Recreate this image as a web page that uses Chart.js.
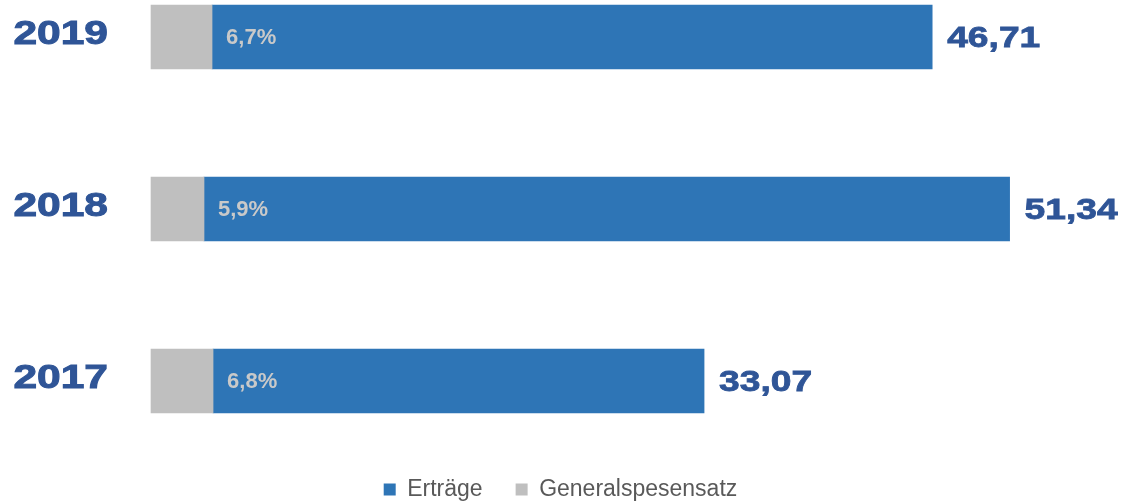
<!DOCTYPE html>
<html>
<head>
<meta charset="utf-8">
<script src="https://cdn.jsdelivr.net/npm/chart.js@4"></script>
<style>
  html, body { margin: 0; background: #fff; }
  #wrap { width: 1127px; height: 504px; }
</style>
</head>
<body>
<div id="wrap"><canvas id="chart"></canvas></div>
<script>
const years = ["2019", "2018", "2017"];
// total length of each bar (the big number to the right)
const ertraege = [46.71, 51.34, 33.07];
// length of the grey part in axis units
const generalspesen = [3.65, 3.17, 3.71];
const generalspesenLabels = ["6,7%", "5,9%", "6,8%"];
const xMax = 58;

const BLUE = "#2E75B6";
const GREY = "#BFBFBF";
const DARKBLUE = "#2F5597";

// draws text stretched sideways like in the original picture
function stretchedText(ctx, text, x, y, font, scaleX, align, color, heavy) {
  ctx.save();
  ctx.translate(x, y);
  ctx.scale(scaleX, 1);
  ctx.font = font;
  ctx.fillStyle = color;
  ctx.textAlign = align;
  ctx.textBaseline = "middle";
  ctx.fillText(text, 0, 0);
  if (heavy) {
    ctx.strokeStyle = color;
    ctx.lineWidth = heavy;
    ctx.strokeText(text, 0, 0);
  }
  ctx.restore();
}

const barLabels = {
  id: "barLabels",
  afterDatasetsDraw(chart) {
    const ctx = chart.ctx;
    const yScale = chart.scales.y;
    const greyMeta = chart.getDatasetMeta(0);
    const blueMeta = chart.getDatasetMeta(1);
    years.forEach((year, i) => {
      const y = yScale.getPixelForValue(i);
      stretchedText(ctx, year, 108, y - 2, 'bold 34px "Liberation Sans"', 1.25, "right", DARKBLUE, 1);
      stretchedText(ctx, generalspesenLabels[i], greyMeta.data[i].x + 14, y + 1,
        'bold 22px "Liberation Sans"', 1.0, "left", "#C9C9C9", 0);
      stretchedText(ctx, ertraege[i].toFixed(2).replace(".", ","), blueMeta.data[i].x + 15, y + 2,
        'bold 30px "Liberation Sans"', 1.24, "left", DARKBLUE, 0.8);
    });
  }
};

new Chart(document.getElementById("chart"), {
  type: "bar",
  data: {
    labels: years,
    datasets: [
      {
        label: "Generalspesensatz",
        data: generalspesen,
        backgroundColor: GREY,
        barThickness: 64,
        clip: false
      },
      {
        label: "Erträge",
        data: ertraege.map((v, i) => v - generalspesen[i]),
        backgroundColor: BLUE,
        barThickness: 64,
        clip: false
      }
    ]
  },
  options: {
    indexAxis: "y",
    responsive: true,
    maintainAspectRatio: false,
    animation: false,
    layout: { padding: { left: 0, right: 6, top: 37, bottom: -7 } },
    scales: {
      x: {
        stacked: true,
        min: 0,
        max: xMax,
        grid: { display: false },
        border: { display: false },
        ticks: { display: false },
        afterFit(scale) { scale.height = 64; }
      },
      y: {
        stacked: true,
        offset: false,
        grid: { display: false },
        border: { display: false },
        ticks: { display: false },
        afterFit(scale) { scale.width = 151; }
      }
    },
    plugins: {
      tooltip: { enabled: false },
      legend: {
        position: "bottom",
        reverse: true,
        labels: {
          boxWidth: 12,
          boxHeight: 12,
          padding: 33,
          color: "#595959",
          font: { family: "Liberation Sans", size: 23 }
        }
      }
    }
  },
  plugins: [barLabels]
});
</script>
</body>
</html>
